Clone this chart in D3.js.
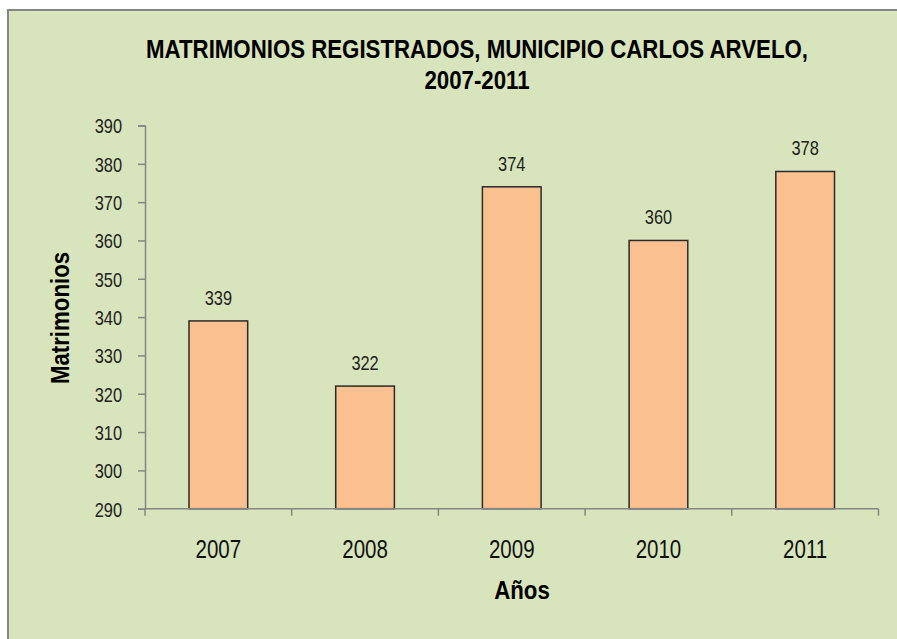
<!DOCTYPE html>
<html><head><meta charset="utf-8">
<script src="https://cdn.jsdelivr.net/npm/d3@7"></script>
<style>
html,body{margin:0;padding:0;background:#fff;}
svg{display:block;}
</style>
</head><body>
<div id="chart"></div>
<script>
const years = ["2007","2008","2009","2010","2011"];
const matrimonios = [339, 322, 374, 360, 378];
const yTicks = [290,300,310,320,330,340,350,360,370,380,390];
const titleLines = ["MATRIMONIOS REGISTRADOS, MUNICIPIO CARLOS ARVELO,", "2007-2011"];
const xTitle = "Años";
const yTitle = "Matrimonios";

const W = 897, H = 639;
const font = "'Liberation Sans',Arial,sans-serif";
const SX = 0.82;  // horizontal squeeze to imitate a narrow face
const SXB = 0.89; // squeeze for bold titles
const svg = d3.select("#chart").append("svg").attr("width", W).attr("height", H);

svg.append("rect").attr("x", 8).attr("y", 10).attr("width", W).attr("height", H)
  .attr("fill", "#d8e4bc").attr("stroke", "#868686").attr("stroke-width", 2);

const plot = {left: 145, right: 878.5, top: 125.5, bottom: 508.7};
const x = d3.scaleBand().domain(years).range([plot.left, plot.right]).paddingInner(0.6).paddingOuter(0.3);
const xb = d3.scaleBand().domain(years).range([plot.left, plot.right]);
const y = d3.scaleLinear().domain([290, 390]).range([plot.bottom, plot.top]);

// bars
svg.append("g").selectAll("rect").data(years).join("rect")
  .attr("x", d => x(d)).attr("width", x.bandwidth())
  .attr("y", (d,i) => y(matrimonios[i]))
  .attr("height", (d,i) => y(290) - y(matrimonios[i]))
  .attr("fill", "#fac090").attr("stroke", "#2b2b2b").attr("stroke-width", 1.5);

// value labels
svg.append("g").selectAll("text").data(years).join("text")
  .attr("transform", (d,i) => `translate(${x(d) + x.bandwidth()/2},${y(matrimonios[i]) - 16}) scale(${SX},1)`)
  .attr("text-anchor", "middle")
  .attr("font-family", font).attr("font-size", 20).attr("fill", "#222")
  .text((d,i) => matrimonios[i]);

// y axis
const yAxis = d3.axisLeft(y).tickValues(yTicks).tickSize(7).tickPadding(0);
const gy = svg.append("g").attr("transform", `translate(${plot.left},0)`).call(yAxis);
gy.select(".domain").attr("stroke", "#868686").attr("stroke-width", 1.5);
gy.selectAll(".tick line").attr("stroke", "#868686").attr("stroke-width", 1.5);
gy.selectAll(".tick text")
  .attr("x", null).attr("dy", null)
  .attr("transform", `translate(-23,7.3) scale(${SX},1)`)
  .attr("font-family", font).attr("font-size", 20).attr("fill", "#222");

// x axis
const gx = svg.append("g").attr("transform", `translate(0,${plot.bottom})`);
gx.append("line").attr("x1", plot.left).attr("x2", plot.right).attr("y1", 0).attr("y2", 0)
  .attr("stroke", "#868686").attr("stroke-width", 1.5);
const bounds = years.map(d => xb(d)).concat([xb(years[years.length-1]) + xb.bandwidth()]);
gx.selectAll("line.t").data(bounds).join("line").attr("class","t")
  .attr("x1", d => d).attr("x2", d => d).attr("y1", 0).attr("y2", 7)
  .attr("stroke", "#868686").attr("stroke-width", 1.5);
gx.selectAll("text").data(years).join("text")
  .attr("transform", d => `translate(${xb(d) + xb.bandwidth()/2},49) scale(${SX},1)`)
  .attr("text-anchor", "middle")
  .attr("font-family", font).attr("font-size", 25).attr("fill", "#111")
  .text(d => d);

// titles
svg.append("g").selectAll("text").data(titleLines).join("text")
  .attr("transform", (d,i) => `translate(477,${58 + i*31}) scale(${SXB},1)`)
  .attr("text-anchor", "middle")
  .attr("font-family", font).attr("font-weight", "bold").attr("font-size", 25).attr("fill", "#000")
  .text(d => d);

svg.append("text").attr("transform", `translate(522,599) scale(${SXB},1)`).attr("text-anchor", "middle")
  .attr("font-family", font).attr("font-weight", "bold").attr("font-size", 25).attr("fill", "#000")
  .text(xTitle);

svg.append("text").attr("transform", `translate(69,318) rotate(-90) scale(${SXB},1)`).attr("text-anchor", "middle")
  .attr("font-family", font).attr("font-weight", "bold").attr("font-size", 25).attr("fill", "#000")
  .text(yTitle);
</script>
</body></html>
